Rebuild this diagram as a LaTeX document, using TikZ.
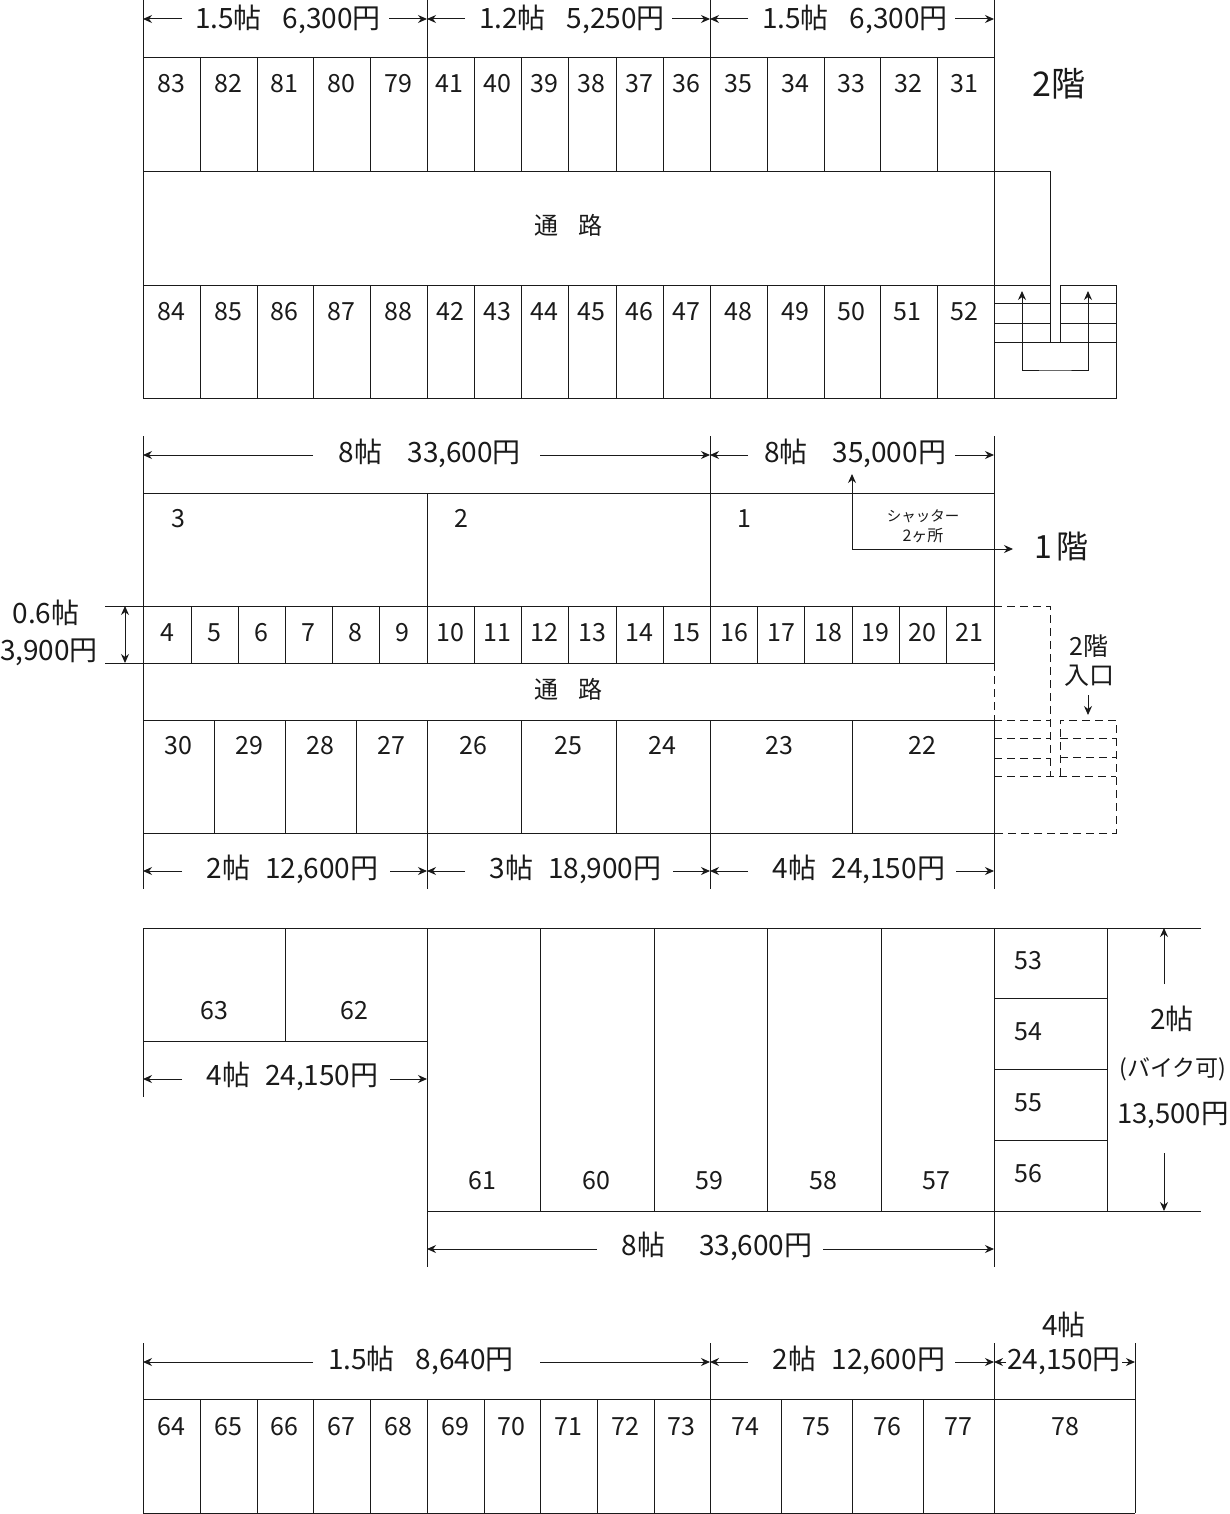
\documentclass[tikz,border=0pt]{standalone}
\usepackage{fontspec}
\setmainfont{Noto Sans CJK JP}
\usetikzlibrary{arrows.meta}
\definecolor{ink}{HTML}{1A1A1A}
\tikzset{
  wall/.style={draw=ink,line width=1pt},
  hid/.style={draw=ink,line width=1pt,dash pattern=on 8pt off 5pt},
  tip/.style={-{Stealth[length=9pt,width=8pt]}},
  twotip/.style={{Stealth[length=9pt,width=8pt]}-{Stealth[length=9pt,width=8pt]}},
  dimline/.style={draw=ink,line width=1pt,tip},
  dimtwo/.style={draw=ink,line width=1pt,twotip},
  cellno/.style={inner sep=0pt,text=ink,font=\fontsize{25}{28}\selectfont,text height=18pt,text depth=0pt},
  dimtxt/.style={inner sep=0pt,text=ink,font=\fontsize{28}{30}\selectfont,text height=20pt,text depth=0pt},
  small/.style={inner sep=0pt,text=ink,text height=12pt,text depth=0pt},
  big/.style={inner sep=0pt,text=ink,font=\fontsize{34}{36}\selectfont,text height=25pt,text depth=0pt},
}
% name, text cx, text cy, arrow y, outer left x, inner left x, inner right x, outer right x, text
\newcommand{\dimtext}[9]{%
  \node[dimtxt] (#1) at (#2,#3) {#9};
  \coordinate (#1a) at (#5,#4); \coordinate (#1b) at (#6,#4);
  \coordinate (#1c) at (#7,#4); \coordinate (#1d) at (#8,#4);
  \draw[dimline] (#1b) -- (#1a);
  \draw[dimline] (#1c) -- (#1d);
}
\begin{document}
\begin{tikzpicture}[x=1pt,y=-1pt]
\useasboundingbox[fill=white] (0,0) rectangle (1230,1514);

% ===== 2F =====
\draw[wall] (143,0) -- (143,398);
\draw[wall] (427,0) -- (427,58);
\draw[wall] (710,0) -- (710,58);
\draw[wall] (994,0) -- (994,398);
\foreach \y in {58,172,285,398} \draw[wall] (143,\y) -- (994,\y);
\foreach \x in {200,257,313,370,427,474,521,568,616,663,710,767,824,880,937} {
  \draw[wall] (\x,58) -- (\x,172);
  \draw[wall] (\x,285) -- (\x,398);
}
\foreach \t/\x in {83/171,82/228,81/284,80/341,79/398,41/449,40/497,39/544,38/591,37/639,36/686,35/738,34/795,33/851,32/908,31/964}
  \node[cellno] (c\t) at (\x,84) {\t};
\foreach \t/\x in {84/171,85/228,86/284,87/341,88/398,42/450,43/497,44/544,45/591,46/639,47/686,48/738,49/795,50/851,51/907,52/964}
  \node[cellno] (c\t) at (\x,311) {\t};
\node[cellno] (aisleA) at (568,226) {\fontsize{24}{26}\selectfont 通\hspace{20pt}路};
\node[big] (floorB) at (1059,84) {2階};
% stairs 2F
\draw[wall] (994,172) -- (1050,172) -- (1050,342);
\draw[wall] (1060,342) -- (1060,285) -- (1116,285) -- (1116,398) -- (994,398);
\draw[wall] (994,342) -- (1116,342);
\foreach \y in {285,303,323} \draw[wall] (994,\y) -- (1050,\y);
\foreach \y in {303,323} \draw[wall] (1060,\y) -- (1116,\y);
\coordinate (upL) at (1022,291); \coordinate (upR) at (1088,291);
\draw[dimtwo] (upL) |- (1055,370) -| (upR);
% dims 2F
\dimtext{dA}{288}{19}{19}{143}{182}{389}{427}{1.5帖\hspace{21pt}6,300円}
\dimtext{dB}{572}{19}{19}{427}{465}{672}{710}{1.2帖\hspace{21pt}5,250円}
\dimtext{dC}{855}{19}{19}{710}{748}{955}{994}{1.5帖\hspace{21pt}6,300円}

% ===== 1F =====
\draw[wall] (143,436) -- (143,889);
\draw[wall] (710,436) -- (710,493);
\draw[wall] (994,436) -- (994,663);
\draw[hid] (994,663) -- (994,720);
\draw[wall] (994,720) -- (994,889);
\foreach \y in {493,606,663,720,833} \draw[wall] (143,\y) -- (994,\y);
\draw[wall] (427,493) -- (427,606);
\draw[wall] (710,493) -- (710,606);
\foreach \x in {191,238,285,332,379,427,474,521,568,616,663,710,757,804,852,899,946}
  \draw[wall] (\x,606) -- (\x,663);
\foreach \x in {214,285,356,427,521,616,710,852}
  \draw[wall] (\x,720) -- (\x,833);
\foreach \x in {427,710}
  \draw[wall] (\x,833) -- (\x,889);
\foreach \t/\x in {3/178,2/461,1/744}
  \node[cellno] (c\t) at (\x,518) {\t};
\foreach \t/\x in {4/167,5/214,6/261,7/308,8/355,9/402,10/450,11/497,12/544,13/592,14/639,15/686,16/734,17/781,18/828,19/875,20/922,21/969}
  \node[cellno] (c\t) at (\x,632) {\t};
\foreach \t/\x in {30/178,29/249,28/320,27/391,26/473,25/568,24/662,23/779,22/922}
  \node[cellno] (c\t) at (\x,745) {\t};
\node[cellno] (aisleB) at (568,689) {\fontsize{24}{26}\selectfont 通\hspace{20pt}路};
\dimtext{dD}{430}{452}{455}{143}{313}{540}{710}{8帖\hspace{25pt}33,600円}
\dimtext{dE}{855}{452}{455}{710}{748}{955}{994}{8帖\hspace{25pt}35,000円}
\dimtext{dF}{292.5}{868}{871}{143}{182}{390}{427}{2帖\hspace{15pt}12,600円}
\dimtext{dG}{575.5}{868}{871}{427}{465}{673}{710}{3帖\hspace{15pt}18,900円}
\dimtext{dH}{859}{868}{871}{710}{748}{956}{994}{4帖\hspace{15pt}24,150円}
% 0.6 mat
\draw[wall] (105,606) -- (143,606);
\draw[wall] (105,663) -- (143,663);
\coordinate (hT) at (125,606); \coordinate (hB) at (125,663);
\draw[dimtwo] (hT) -- (hB);
\node[dimtxt] (mA) at (46,613) {0.6帖};
\node[dimtxt] (mB) at (49,650) {3,900円};
% shutter
\node[small,font=\fontsize{14.5}{16}\selectfont] (shA) at (923,515) {シャッター};
\node[small,font=\fontsize{16}{18}\selectfont] (shB) at (923,535) {2ヶ所};
\coordinate (shU) at (852,474); \coordinate (shR) at (1013,549);
\draw[dimtwo] (shU) |- (shR);
\node[big,font=\fontsize{32}{34}\selectfont] (floorA) at (1061.5,546) {1\hspace{5pt}階};
% dashed stairs
\draw[hid] (994,606) -- (1050,606) -- (1050,776);
\foreach \y in {720,738,758} \draw[hid] (994,\y) -- (1050,\y);
\draw[hid] (994,776) -- (1116,776);
\draw[hid] (1060,776) -- (1060,720) -- (1116,720) -- (1116,833) -- (994,833);
\foreach \y in {738,757} \draw[hid] (1060,\y) -- (1116,\y);
\node[cellno] (enA) at (1089,646) {2階};
\node[cellno] (enB) at (1089,675) {入口};
\coordinate (enC) at (1088,695); \coordinate (enD) at (1088,715);
\draw[dimline] (enC) -- (enD);

% ===== third block =====
\draw[wall] (143,928) -- (1201,928);
\draw[wall] (143,928) -- (143,1097);
\draw[wall] (143,1041) -- (427,1041);
\draw[wall] (285,928) -- (285,1041);
\draw[wall] (427,928) -- (427,1267);
\draw[wall] (994,928) -- (994,1267);
\draw[wall] (427,1211) -- (1201,1211);
\foreach \x in {540,654,767,881,1107} \draw[wall] (\x,928) -- (\x,1211);
\foreach \y in {998,1069,1140} \draw[wall] (994,\y) -- (1107,\y);
\foreach \t/\y in {53/960,54/1031,55/1102,56/1173}
  \node[cellno] (c\t) at (1028,\y) {\t};
\foreach \t/\x in {61/482,60/596,59/709,58/823,57/936}
  \node[cellno] (c\t) at (\x,1180) {\t};
\foreach \t/\x in {63/214,62/354}
  \node[cellno] (c\t) at (\x,1010) {\t};
\dimtext{dI}{292.5}{1075}{1079}{143}{182}{390}{427}{4帖\hspace{15pt}24,150円}
\dimtext{dJ}{717}{1245}{1249}{427}{597}{823}{994}{8帖\hspace{34pt}33,600円}
\coordinate (vA) at (1164,984); \coordinate (vB) at (1164,928);
\coordinate (vC) at (1164,1153); \coordinate (vD) at (1164,1211);
\draw[dimline] (vA) -- (vB);
\draw[dimline] (vC) -- (vD);
\node[dimtxt] (bA) at (1172,1019) {2帖};
\node[cellno] (bB) at (1173,1067) {\fontsize{23}{25}\selectfont (バイク可)};
\node[dimtxt,font=\fontsize{27.5}{30}\selectfont] (bC) at (1173,1113) {13,500円};

% ===== bottom block =====
\draw[wall] (143,1343) -- (143,1513);
\draw[wall] (710,1343) -- (710,1513);
\draw[wall] (994,1343) -- (994,1513);
\draw[wall] (1135,1343) -- (1135,1513);
\draw[wall] (143,1399) -- (1135,1399);
\draw[wall] (143,1513) -- (1135,1513);
\foreach \x in {200,257,313,370,427,484,540,597,654,781,852,923}
  \draw[wall] (\x,1399) -- (\x,1513);
\foreach \t/\x in {64/171,65/228,66/284,67/341,68/398,69/455,70/511,71/568,72/625,73/681,74/745,75/816,76/887,77/958,78/1065}
  \node[cellno] (c\t) at (\x,1426) {\t};
\dimtext{dK}{421}{1359}{1362}{143}{313}{540}{710}{1.5帖\hspace{21pt}8,640円}
\dimtext{dL}{859}{1359}{1362}{710}{748}{955}{994}{2帖\hspace{15pt}12,600円}
\dimtext{dM}{1064}{1359}{1362}{994}{1006}{1122}{1135}{24,150円}
\node[dimtxt] (dN) at (1064,1325) {4帖};
\end{tikzpicture}
\end{document}
